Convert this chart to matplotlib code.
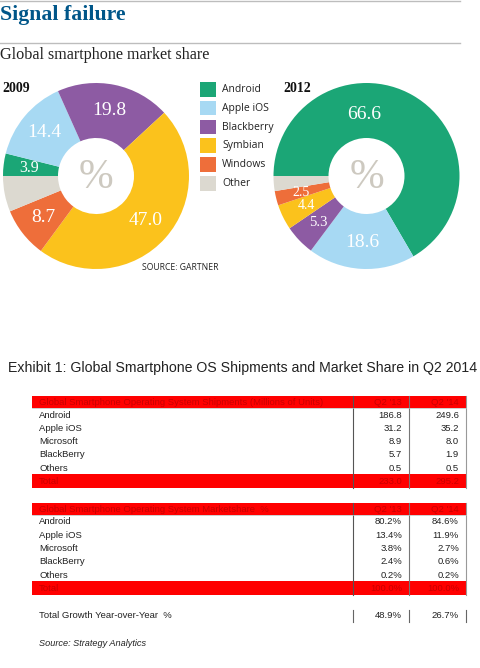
import matplotlib
matplotlib.use('Agg')
import matplotlib.pyplot as plt
from matplotlib.patches import Rectangle
import numpy as np

# ---------------- data ----------------
categories = ['Android', 'Apple iOS', 'Blackberry', 'Symbian', 'Windows', 'Other']
share_2009 = [3.9, 14.4, 19.8, 47.0, 8.7, 6.2]
share_2012 = [66.6, 18.6, 5.3, 4.4, 2.5, 2.6]
labelled_2009 = [True, True, True, True, True, False]
labelled_2012 = [True, True, True, True, True, False]

table_rows = ['Android', 'Apple iOS', 'Microsoft', 'BlackBerry', 'Others']
col_headers = ["Q2 '13", "Q2 '14"]
ship_q2_13 = [186.8, 31.2, 8.9, 5.7, 0.5]
ship_q2_14 = [249.6, 35.2, 8.0, 1.9, 0.5]
ship_total = [233.0, 295.2]
mshare_q2_13 = [80.2, 13.4, 3.8, 2.4, 0.2]
mshare_q2_14 = [84.6, 11.9, 2.7, 0.6, 0.2]
mshare_total = [100.0, 100.0]
growth_yoy = [48.9, 26.7]

# ---------------- style ----------------
colors = ['#1ba676', '#a7d9f3', '#8d5ba3', '#fbc21c', '#ee6e3a', '#dcd9d0']
BLUE = '#005689'
SERIF = 'Liberation Serif'
SANS = 'Liberation Sans'
LEG = 'Open Sans'
RED = '#ff0000'
DARKRED = '#c80000'

W, H = 480, 668
fig = plt.figure(figsize=(W / 100, H / 100), dpi=100)
bg = fig.add_axes([0, 0, 1, 1])
bg.set_xlim(0, W)
bg.set_ylim(H, 0)
bg.axis('off')
renderer = fig.canvas.get_renderer()


def fit_text(x, y, s, width, **kw):
    t = bg.text(x, y, s, fontsize=10, **kw)
    w = t.get_window_extent(renderer=renderer).width
    t.set_fontsize(10 * width / w)
    return t


# header rules & titles
bg.plot([0, 460], [1, 1], color='#bdbdbd', lw=1.0)
bg.plot([0, 460], [43, 43], color='#bdbdbd', lw=1.0)
fit_text(0, 20, 'Signal failure', 126, family=SERIF, weight='bold', color=BLUE, va='baseline')
fit_text(0, 59, 'Global smartphone market share', 210, family=SERIF, color='#222222', va='baseline')


# ---------------- donuts ----------------
R = 93
HOLE = 38


def label_size(v, year):
    if v >= 8:
        return 14
    if year == '2009':
        return 11.5
    return 10.5 if v > 5 else 10


def donut(cx, cy, values, labelled, year, year_x, big_override=None):
    ax = fig.add_axes([(cx - R) / W, 1 - (cy + R) / H, 2 * R / W, 2 * R / H])
    wedges, _ = ax.pie(values, colors=colors, startangle=180, counterclock=False,
                       radius=1, wedgeprops=dict(width=1 - HOLE / R, linewidth=0))
    ax.set_xlim(-1, 1)
    ax.set_ylim(-1, 1)
    ax.axis('off')
    for i, (w, v, lab) in enumerate(zip(wedges, values, labelled)):
        if not lab:
            continue
        ang = np.deg2rad((w.theta1 + w.theta2) / 2)
        r = 0.72
        if big_override is not None and i == 0:
            ang = np.deg2rad(big_override)
            r = 0.66
        ax.text(r * np.cos(ang), r * np.sin(ang), f'{v:.1f}', ha='center', va='center',
                color='white', fontsize=label_size(v, year), family=SERIF)
    ax.text(0, -0.02, '%', ha='center', va='center', fontsize=30, family=SERIF, color='#cdc9c0')
    bg.text(year_x, 92, year, family=SERIF, weight='bold', fontsize=10, color='#111111', va='baseline')


donut(96, 176, share_2009, labelled_2009, '2009', 2)
donut(366.5, 176, share_2012, labelled_2012, '2012', 283, big_override=92)

# legend
for i, (c, name) in enumerate(zip(colors, categories)):
    top = 82 + 18.8 * i
    bg.add_patch(Rectangle((200, top), 16, 14.5, facecolor=c, edgecolor='none'))
    bg.text(222, top + 7.5, name, family=LEG, fontsize=7.5, va='center', color='#222222')

bg.text(142, 268, 'SOURCE: GARTNER', family=LEG, fontsize=6.2, va='center', color='#222222')

# ---------------- table ----------------
fit_text(8, 372, 'Exhibit 1: Global Smartphone OS Shipments and Market Share in Q2 2014', 469,
         family=SANS, color='#222222', va='baseline')

X0, X1 = 32, 466
C1, C2 = 353, 409
R1, R2 = 402, 459
TFS = 6.8


def block(top, title, vals13, vals14, totals, pct):
    bg.add_patch(Rectangle((X0, top), X1 - X0, 12, facecolor=RED, edgecolor='none'))
    bg.text(39, top + 6.5, title, family=SANS, fontsize=TFS, color=DARKRED, va='center')
    bg.text(R1, top + 6.5, col_headers[0], family=SANS, fontsize=TFS, color=DARKRED, va='center', ha='right')
    bg.text(R2, top + 6.5, col_headers[1], family=SANS, fontsize=TFS, color=DARKRED, va='center', ha='right')
    first = top + 19
    step = 13.3
    fmt = (lambda v: f'{v:.1f}%') if pct else (lambda v: f'{v:.1f}')
    for i, (name, a, b) in enumerate(zip(table_rows, vals13, vals14)):
        y = first + step * i
        bg.text(39, y, name, family=SANS, fontsize=TFS, color='#222222', va='center')
        bg.text(R1, y, fmt(a), family=SANS, fontsize=TFS, color='#222222', va='center', ha='right')
        bg.text(R2, y, fmt(b), family=SANS, fontsize=TFS, color='#222222', va='center', ha='right')
    ttop = first + step * 4 + 6
    bg.add_patch(Rectangle((X0, ttop), X1 - X0, 13.5, facecolor=RED, edgecolor='none'))
    bg.text(39, ttop + 7, 'Total', family=SANS, fontsize=TFS, color=DARKRED, va='center')
    bg.text(R1, ttop + 7, fmt(totals[0]), family=SANS, fontsize=TFS, color=DARKRED, va='center', ha='right')
    bg.text(R2, ttop + 7, fmt(totals[1]), family=SANS, fontsize=TFS, color=DARKRED, va='center', ha='right')
    for xc, col in ((C1, '#555555'), (C2, '#777777'), (X1, '#999999')):
        bg.plot([xc, xc], [top, ttop + 13.5], color=col, lw=0.8)
    bg.plot([X0, X1], [top + 12, top + 12], color='#bbbbbb', lw=0.5)


block(396, 'Global Smartphone Operating System Shipments (Millions of Units)',
      ship_q2_13, ship_q2_14, ship_total, False)
block(503, 'Global Smartphone Operating System Marketshare  %',
      mshare_q2_13, mshare_q2_14, mshare_total, True)

gy = 616
bg.text(39, gy, 'Total Growth Year-over-Year  %', family=SANS, fontsize=TFS, color='#222222', va='center')
bg.text(R1, gy, f'{growth_yoy[0]:.1f}%', family=SANS, fontsize=TFS, color='#222222', va='center', ha='right')
bg.text(R2, gy, f'{growth_yoy[1]:.1f}%', family=SANS, fontsize=TFS, color='#222222', va='center', ha='right')
for xc in (C1, C2, X1):
    bg.plot([xc, xc], [610, 622], color='#666666', lw=0.8)

bg.text(39, 644, 'Source: Strategy Analytics', family=SANS, style='italic', fontsize=6.6,
        color='#222222', va='center')

fig.savefig('out.png', dpi=100)
